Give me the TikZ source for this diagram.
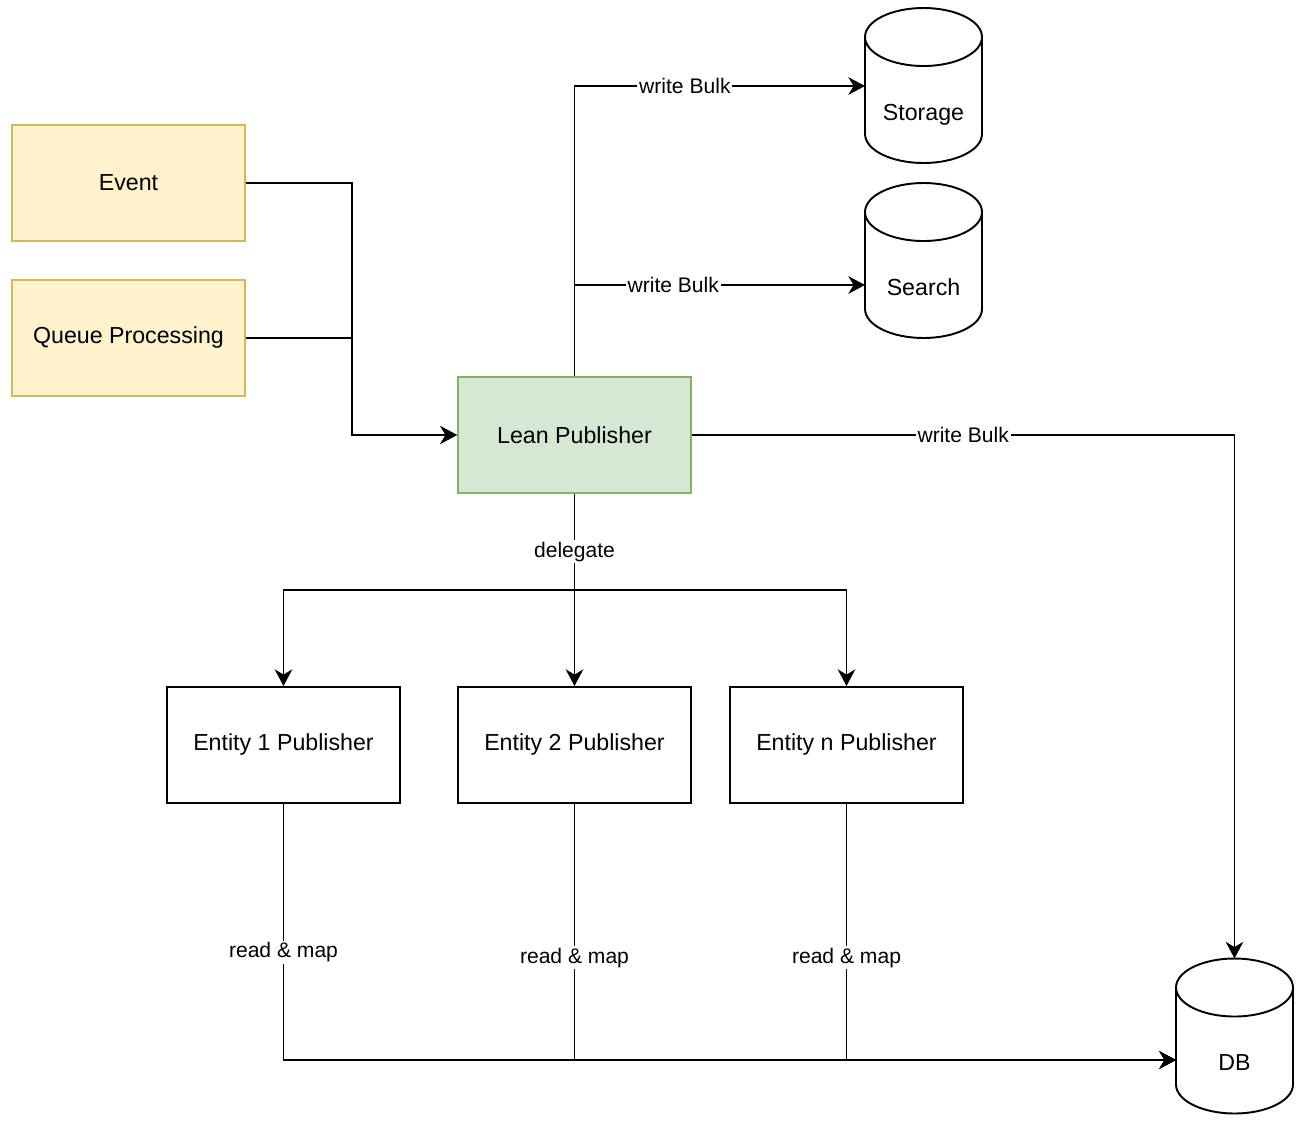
\documentclass[tikz,border=0pt]{standalone}
\usepackage{fontspec}
\setmainfont{Liberation Sans}
\usepackage{xcolor}
\usetikzlibrary{arrows.meta}

\definecolor{srcfill}{HTML}{FFF2CC}
\definecolor{srcline}{HTML}{D6B656}
\definecolor{pubfill}{HTML}{D5E8D4}
\definecolor{publine}{HTML}{82B366}

\tikzset{
  box/.style={draw, line width=1.1pt, minimum width=4.66cm, minimum height=2.32cm,
    inner sep=0pt, font=\fontsize{13.2}{16}\selectfont},
  source/.style={box, draw=srcline, fill=srcfill},
  lean/.style={box, draw=publine, fill=pubfill},
  cyl/.style={minimum width=2.34cm, minimum height=1.94cm, inner sep=0pt, outer sep=0pt,
    font=\fontsize{13.2}{16}\selectfont},
  flow/.style={line width=1.1pt, -{Stealth[length=9.5pt, width=10pt, inset=3pt]}},
  lbl/.style={fill=white, inner sep=1pt, font=\fontsize{12}{14}\selectfont}
}

\begin{document}
\begin{tikzpicture}[x=0.02cm, y=-0.02cm]
        \useasboundingbox (0,0) rectangle (1312,1128);

        % Sources of work
        \node[source] (event) at (128.5,183) {Event};
        \node[source] (queue) at (128.5,338) {Queue Processing};

        % Central publisher
        \node[lean] (lean) at (574.5,435) {Lean Publisher};

        % Entity publishers
        \node[box] (e1) at (283.5,745) {Entity 1 Publisher};
        \node[box] (e2) at (574.5,745) {Entity 2 Publisher};
        \node[box] (en) at (846.5,745) {Entity n Publisher};

        % Stores (body part of each cylinder carries the text)
        \node[cyl] (storage) at (923.5,114.5) {Storage};
        \node[cyl] (search) at (923.5,289.5) {\raisebox{0.1cm}{Search}};
        \node[cyl] (db) at (1234.5,1065) {\raisebox{0.08cm}{DB}};

        % Draw cylinder outlines
        \foreach \c in {storage, search, db} {
          \draw[line width=1.1pt] ([yshift=0.58cm]\c.north) ellipse [x radius=1.17cm, y radius=0.58cm];
          \draw[line width=1.1pt] ([yshift=0.58cm]\c.north west) -- ([yshift=0.58cm]\c.south west)
            arc[start angle=180, end angle=360, x radius=1.17cm, y radius=0.58cm]
            -- ([yshift=0.58cm]\c.north east);
        }

        % Helper points
        \coordinate (join) at (352,435);
        \coordinate (split) at (574.5,590);
        \coordinate (dbin) at ([yshift=0.1cm]db.west);

        % Sources into the publisher
        \draw[flow] (event.east) -| (join) -- (lean.west);
        \draw[flow] (queue.east) -| (join) -- (lean.west);

        % Bulk writes
        \draw[flow] (lean.north) |- node[lbl, pos=0.69] {write Bulk} ([yshift=-0.4cm]storage.north west);
        \draw[flow] (lean.north) |- node[lbl, pos=0.67] {write Bulk} ([yshift=0.09cm]search.west);
        \draw[flow] (lean.east) -| node[lbl, pos=0.25] {write Bulk} ([yshift=1.16cm]db.north);

        % Delegation to entity publishers
        \draw[flow] (lean.south) -- node[lbl, pos=0.6] {delegate} (split) -| (e1.north);
        \draw[flow] (split) -- (e2.north);
        \draw[flow] (split) -| (en.north);

        % Reads from the DB
        \draw[flow] (e1.south) |- node[lbl, pos=0.29] {read \& map} (dbin);
        \draw[flow] (e2.south) |- node[lbl, pos=0.30] {read \& map} (dbin);
        \draw[flow] (en.south) |- node[lbl, pos=0.30] {read \& map} (dbin);
\end{tikzpicture}
\end{document}
